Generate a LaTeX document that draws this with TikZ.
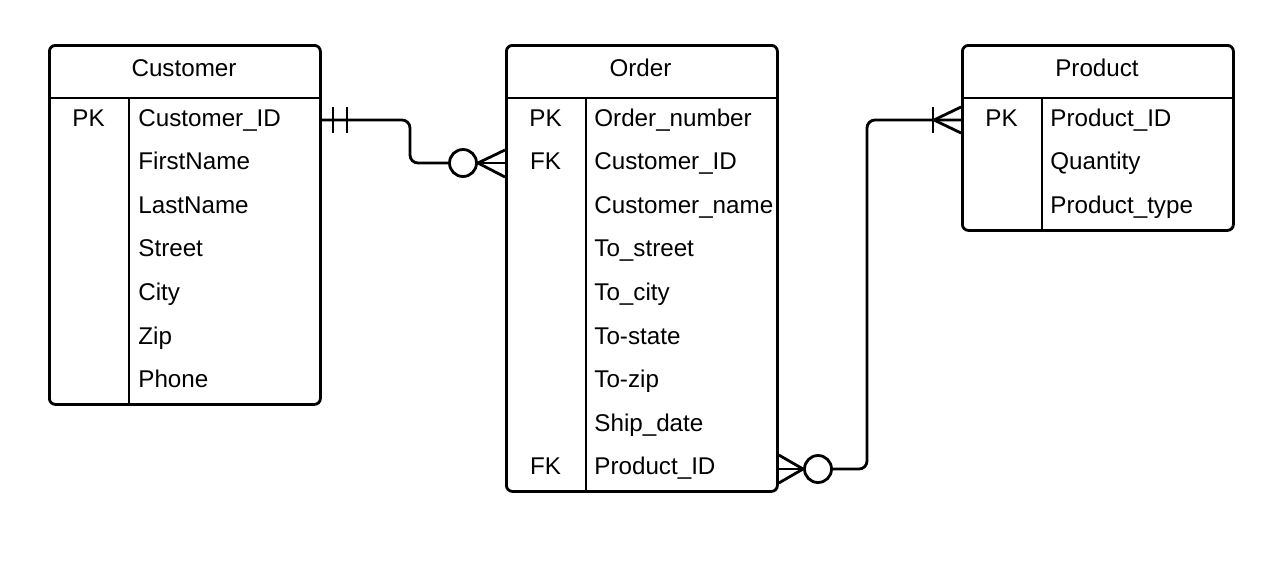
\documentclass[tikz,border=0pt]{standalone}
\usepackage{fontspec}
\setmainfont{Liberation Sans}
\begin{document}
\begin{tikzpicture}[x=1pt,y=-1pt,line width=2.8pt,
  entity/.style={draw,rounded corners=6pt,minimum width=#1,inner sep=0pt,anchor=north west},
  txt/.style={font=\fontsize{24.2}{28}\selectfont,inner sep=0pt},
  field/.style={txt,anchor=base west},
  key/.style={txt,anchor=base},
  hdr/.style={txt,anchor=base},
  conn/.style={rounded corners=8pt},
  ring/.style={circle,draw,fill=white,minimum size=27pt,inner sep=0pt}]
\useasboundingbox (0,0) rectangle (1277,574);
\fill[white] (0,0) rectangle (1277,574);
% Customer
\node[entity=271pt,minimum height=359pt] (cust) at (48,44) {};
\draw (cust.west |- 0,98) -- (cust.east |- 0,98);
\draw (129,98) -- (cust.south -| 129,0);
\node[hdr] (custh) at (184,76) {Customer};
\node[key] (ck1) at (88.5,126) {PK};
\foreach \t [count=\i] in {Customer\_ID,FirstName,LastName,Street,City,Zip,Phone}
  \node[field] (c\i) at (137,{126+(\i-1)*43.6}) {\t};
% Order
\node[entity=271pt,minimum height=446pt] (ordr) at (505,44) {};
\draw (ordr.west |- 0,98) -- (ordr.east |- 0,98);
\draw (586,98) -- (ordr.south -| 586,0);
\node[hdr] (ordh) at (640.5,76) {Order};
\node[key] (ok1) at (545.5,126) {PK};
\node[key] (ok2) at (545.5,169.6) {FK};
\node[key] (ok9) at (545.5,474.8) {FK};
\foreach \t [count=\i] in {Order\_number,Customer\_ID,Customer\_name,To\_street,To\_city,To-state,To-zip,Ship\_date,Product\_ID}
  \node[field] (o\i) at (593,{126+(\i-1)*43.6}) {\t};
% Product
\node[entity=271pt,minimum height=185pt] (prod) at (961,44) {};
\draw (prod.west |- 0,98) -- (prod.east |- 0,98);
\draw (1042,98) -- (prod.south -| 1042,0);
\node[hdr] (prodh) at (1097,76) {Product};
\node[key] (pk1) at (1001.5,126) {PK};
\foreach \t [count=\i] in {Product\_ID,Quantity,Product\_type}
  \node[field] (p\i) at (1049,{126+(\i-1)*43.6}) {\t};
% Connector Customer - Order
\node[ring] (r1) at (463,163) {};
\draw[conn] (cust.east |- 0,120) -- (410,120) -- (410,163) -- (r1.west);
\draw (333,107) -- (333,133);
\draw (347,107) -- (347,133);
\draw (r1.east) -- (ordr.west |- 0,150);
\draw (r1.east) -- (ordr.west |- 0,163);
\draw (r1.east) -- (ordr.west |- 0,177);
% Connector Order - Product
\node[ring] (r2) at (818,469) {};
\draw (ordr.east |- 0,469) -- (r2.west);
\draw (r2.west) -- (ordr.east |- 0,455);
\draw (r2.west) -- (ordr.east |- 0,483);
\draw[conn] (r2.east) -- (867,469) -- (867,120) -- (prod.west |- 0,120);
\draw (933,107) -- (933,133);
\draw (934,120) -- (prod.west |- 0,107);
\draw (934,120) -- (prod.west |- 0,133);
\end{tikzpicture}
\end{document}
